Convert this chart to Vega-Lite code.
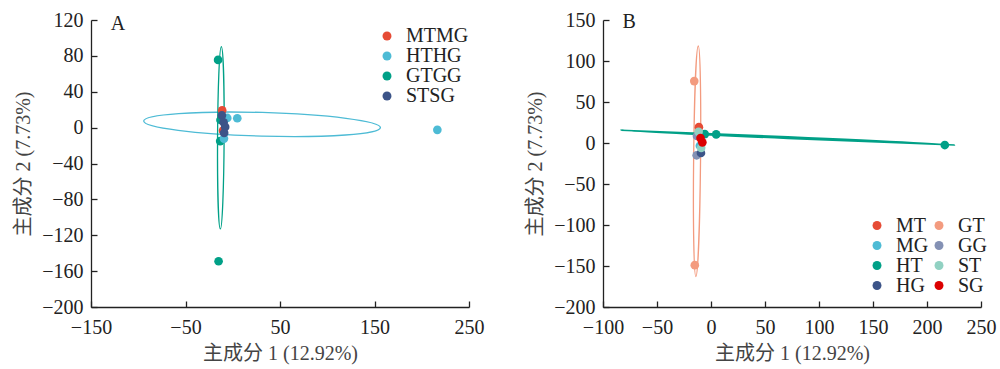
{
  "$schema": "https://vega.github.io/schema/vega-lite/v6.json",
  "padding": {"left": 13, "top": 10, "right": 2, "bottom": 2},
  "background": "white",
  "bounds": "flush",
  "spacing": 134,
  "resolve": {"scale": {"color": "independent"}},
  "config": {
    "view": {"stroke": null},
    "font": "Liberation Serif",
    "axis": {
      "grid": false, "domainColor": "#222", "domainWidth": 1.3, "tickColor": "#222", "tickWidth": 1.3, "tickSize": -6,
      "labelFont": "Liberation Serif", "labelFontSize": 20, "labelColor": "#222", "labelFlush": false, "labelOverlap": false, "labelSeparation": 0,
      "titleFont": "Liberation Serif, Noto Sans CJK SC", "titleFontSize": 20, "titleFontWeight": "normal", "titleColor": "#444"
    },
    "axisX": {"labelPadding": 16, "titlePadding": 6},
    "axisY": {"labelPadding": 14, "titlePadding": 8},
    "legend": {
      "title": null, "symbolType": "circle", "symbolSize": 80, "symbolStrokeWidth": 0, "symbolOpacity": 1,
      "labelFont": "Liberation Serif", "labelFontSize": 20, "labelColor": "#222", "labelOffset": 9, "padding": 0
    }
  },
  "datasets": {
    "pts": [
      {"x": -15.5, "y": 75.5, "g4": "GTGG", "g8": "GT"},
      {"x": -15.0, "y": -149.0, "g4": "GTGG", "g8": "GT"},
      {"x": -13.3, "y": -15.0, "g4": "GTGG", "g8": "GG"},
      {"x": -13.0, "y": 8.5, "g4": "GTGG", "g8": "GG"},
      {"x": 216.5, "y": -2.5, "g4": "HTHG", "g8": "HT"},
      {"x": 4.8, "y": 10.5, "g4": "HTHG", "g8": "HT"},
      {"x": -5.8, "y": 10.8, "g4": "HTHG", "g8": "HT"},
      {"x": -9.3, "y": -12.2, "g4": "HTHG", "g8": "HG"},
      {"x": -11.2, "y": 19.3, "g4": "MTMG", "g8": "MT"},
      {"x": -10.3, "y": -3.4, "g4": "MTMG", "g8": "MG"},
      {"x": -11.5, "y": 13.6, "g4": "STSG", "g8": "ST"},
      {"x": -9.1, "y": -5.9, "g4": "STSG", "g8": "ST"},
      {"x": -9.7, "y": 6.0, "g4": "STSG", "g8": "SG"},
      {"x": -8.0, "y": 0.8, "g4": "STSG", "g8": "SG"}
    ]
  },
  "hconcat": [
    {
      "width": 378, "height": 287,
      "layer": [
        {"mark": {"type": "rule", "color": "#999", "strokeDash": [5, 4], "strokeWidth": 1.2},
         "encoding": {"x": {"datum": 0, "type": "quantitative", "title": "主成分 1 (12.92%)", "scale": {"domain": [-150, 250], "nice": false, "zero": false}, "axis": {"values": [-150, -50, 50, 150, 250], "labelOverlap": false, "labelFlush": false}}}},
        {"mark": {"type": "rule", "color": "#999", "strokeDash": [5, 4], "strokeWidth": 1.2},
         "encoding": {"y": {"datum": 0, "type": "quantitative", "title": "主成分 2 (7.73%)", "scale": {"domain": [-200, 120], "nice": false, "zero": false}, "axis": {"values": [-200, -160, -120, -80, -40, 0, 40, 80, 120], "labelOverlap": false, "labelFlush": false}}}},
        {"data": {"values": [{"x": 31, "y": 3.7}]},
         "mark": {"type": "point", "shape": "M -1 0 A 1 0.1 0 1 1 1 0 A 1 0.1 0 1 1 -1 0 Z", "size": 56074, "angle": 1.6, "filled": false, "stroke": "#4DBBD5", "strokeWidth": 1.3, "opacity": 1},
         "encoding": {
           "x": {"field": "x", "type": "quantitative", "title": "主成分 1 (12.92%)", "scale": {"domain": [-150, 250], "nice": false, "zero": false}, "axis": {"values": [-150, -50, 50, 150, 250], "labelOverlap": false, "labelFlush": false}},
           "y": {"field": "y", "type": "quantitative", "title": "主成分 2 (7.73%)", "scale": {"domain": [-200, 120], "nice": false, "zero": false}, "axis": {"values": [-200, -160, -120, -80, -40, 0, 40, 80, 120], "labelOverlap": false, "labelFlush": false}}}},
        {"data": {"values": [{"x": -12.6, "y": -11.3}]},
         "mark": {"type": "point", "shape": "M -1 0 A 1 0.036 0 1 1 1 0 A 1 0.036 0 1 1 -1 0 Z", "size": 33270, "angle": 90.3, "filled": false, "stroke": "#00A087", "strokeWidth": 1.3, "opacity": 1},
         "encoding": {
           "x": {"field": "x", "type": "quantitative", "title": "主成分 1 (12.92%)", "scale": {"domain": [-150, 250], "nice": false, "zero": false}, "axis": {"values": [-150, -50, 50, 150, 250], "labelOverlap": false, "labelFlush": false}},
           "y": {"field": "y", "type": "quantitative", "title": "主成分 2 (7.73%)", "scale": {"domain": [-200, 120], "nice": false, "zero": false}, "axis": {"values": [-200, -160, -120, -80, -40, 0, 40, 80, 120], "labelOverlap": false, "labelFlush": false}}}},
        {"data": {"name": "pts"},
         "mark": {"type": "circle", "size": 75, "opacity": 1},
         "encoding": {
           "x": {"field": "x", "type": "quantitative", "title": "主成分 1 (12.92%)", "scale": {"domain": [-150, 250], "nice": false, "zero": false}, "axis": {"values": [-150, -50, 50, 150, 250], "labelOverlap": false, "labelFlush": false}},
           "y": {"field": "y", "type": "quantitative", "title": "主成分 2 (7.73%)", "scale": {"domain": [-200, 120], "nice": false, "zero": false}, "axis": {"values": [-200, -160, -120, -80, -40, 0, 40, 80, 120], "labelOverlap": false, "labelFlush": false}},
           "color": {"field": "g4", "type": "nominal",
             "scale": {"domain": ["MTMG", "HTHG", "GTGG", "STSG"], "range": ["#E64B35", "#4DBBD5", "#00A087", "#3C5488"]},
             "legend": {"orient": "none", "legendX": 286, "legendY": 6, "rowPadding": 0}}
         }},
        {"data": {"values": [{"label": "A"}]},
         "mark": {"type": "text", "align": "left", "baseline": "middle", "fontSize": 20, "font": "Liberation Serif", "color": "#222"},
         "encoding": {
           "x": {"datum": -129, "type": "quantitative", "title": "主成分 1 (12.92%)", "scale": {"domain": [-150, 250], "nice": false, "zero": false}, "axis": {"values": [-150, -50, 50, 150, 250], "labelOverlap": false, "labelFlush": false}},
           "y": {"datum": 116, "type": "quantitative", "title": "主成分 2 (7.73%)", "scale": {"domain": [-200, 120], "nice": false, "zero": false}, "axis": {"values": [-200, -160, -120, -80, -40, 0, 40, 80, 120], "labelOverlap": false, "labelFlush": false}},
           "text": {"field": "label", "type": "nominal"}}}
      ]
    },
    {
      "width": 378, "height": 287,
      "layer": [
        {"mark": {"type": "rule", "color": "#999", "strokeDash": [5, 4], "strokeWidth": 1.2},
         "encoding": {"x": {"datum": 0, "type": "quantitative", "title": "主成分 1 (12.92%)", "scale": {"domain": [-100, 250], "nice": false, "zero": false}, "axis": {"values": [-100, -50, 0, 50, 100, 150, 200, 250], "labelOverlap": false, "labelFlush": false}}}},
        {"mark": {"type": "rule", "color": "#999", "strokeDash": [5, 4], "strokeWidth": 1.2},
         "encoding": {"y": {"datum": 0, "type": "quantitative", "title": "主成分 2 (7.73%)", "scale": {"domain": [-200, 150], "nice": false, "zero": false}, "axis": {"values": [-200, -150, -100, -50, 0, 50, 100, 150], "labelOverlap": false, "labelFlush": false}}}},
        {"data": {"values": [{"x": -12.9, "y": -22.3}]},
         "mark": {"type": "point", "shape": "M -1 0 A 1 0.03 0 1 1 1 0 A 1 0.03 0 1 1 -1 0 Z", "size": 53176, "angle": 90.6, "filled": false, "stroke": "#F39B7F", "strokeWidth": 1.3, "opacity": 1},
         "encoding": {
           "x": {"field": "x", "type": "quantitative", "title": "主成分 1 (12.92%)", "scale": {"domain": [-100, 250], "nice": false, "zero": false}, "axis": {"values": [-100, -50, 0, 50, 100, 150, 200, 250], "labelOverlap": false, "labelFlush": false}},
           "y": {"field": "y", "type": "quantitative", "title": "主成分 2 (7.73%)", "scale": {"domain": [-200, 150], "nice": false, "zero": false}, "axis": {"values": [-200, -150, -100, -50, 0, 50, 100, 150], "labelOverlap": false, "labelFlush": false}}}},
        {"data": {"values": [{"x": 71.1, "y": 6.6}]},
         "mark": {"type": "point", "shape": "M -1 0 A 1 0.005 0 1 1 1 0 A 1 0.005 0 1 1 -1 0 Z", "size": 111422, "angle": 2.52, "filled": false, "stroke": "#00A087", "strokeWidth": 1.6, "opacity": 1},
         "encoding": {
           "x": {"field": "x", "type": "quantitative", "title": "主成分 1 (12.92%)", "scale": {"domain": [-100, 250], "nice": false, "zero": false}, "axis": {"values": [-100, -50, 0, 50, 100, 150, 200, 250], "labelOverlap": false, "labelFlush": false}},
           "y": {"field": "y", "type": "quantitative", "title": "主成分 2 (7.73%)", "scale": {"domain": [-200, 150], "nice": false, "zero": false}, "axis": {"values": [-200, -150, -100, -50, 0, 50, 100, 150], "labelOverlap": false, "labelFlush": false}}}},
        {"data": {"name": "pts"},
         "mark": {"type": "circle", "size": 75, "opacity": 1},
         "encoding": {
           "x": {"field": "x", "type": "quantitative", "title": "主成分 1 (12.92%)", "scale": {"domain": [-100, 250], "nice": false, "zero": false}, "axis": {"values": [-100, -50, 0, 50, 100, 150, 200, 250], "labelOverlap": false, "labelFlush": false}},
           "y": {"field": "y", "type": "quantitative", "title": "主成分 2 (7.73%)", "scale": {"domain": [-200, 150], "nice": false, "zero": false}, "axis": {"values": [-200, -150, -100, -50, 0, 50, 100, 150], "labelOverlap": false, "labelFlush": false}},
           "color": {"field": "g8", "type": "nominal",
             "scale": {"domain": ["MT", "MG", "HT", "HG", "GT", "GG", "ST", "SG"], "range": ["#E64B35", "#4DBBD5", "#00A087", "#3C5488", "#F39B7F", "#8491B4", "#91D1C2", "#DC0000"]},
             "legend": {"orient": "none", "legendX": 264, "legendY": 195.5, "rowPadding": 0, "columns": 2, "columnPadding": 0}}
         }},
        {"data": {"values": [{"label": "B"}]},
         "mark": {"type": "text", "align": "left", "baseline": "middle", "fontSize": 20, "font": "Liberation Serif", "color": "#222"},
         "encoding": {
           "x": {"datum": -82, "type": "quantitative", "title": "主成分 1 (12.92%)", "scale": {"domain": [-100, 250], "nice": false, "zero": false}, "axis": {"values": [-100, -50, 0, 50, 100, 150, 200, 250], "labelOverlap": false, "labelFlush": false}},
           "y": {"datum": 147, "type": "quantitative", "title": "主成分 2 (7.73%)", "scale": {"domain": [-200, 150], "nice": false, "zero": false}, "axis": {"values": [-200, -150, -100, -50, 0, 50, 100, 150], "labelOverlap": false, "labelFlush": false}},
           "text": {"field": "label", "type": "nominal"}}}
      ]
    }
  ]
}
